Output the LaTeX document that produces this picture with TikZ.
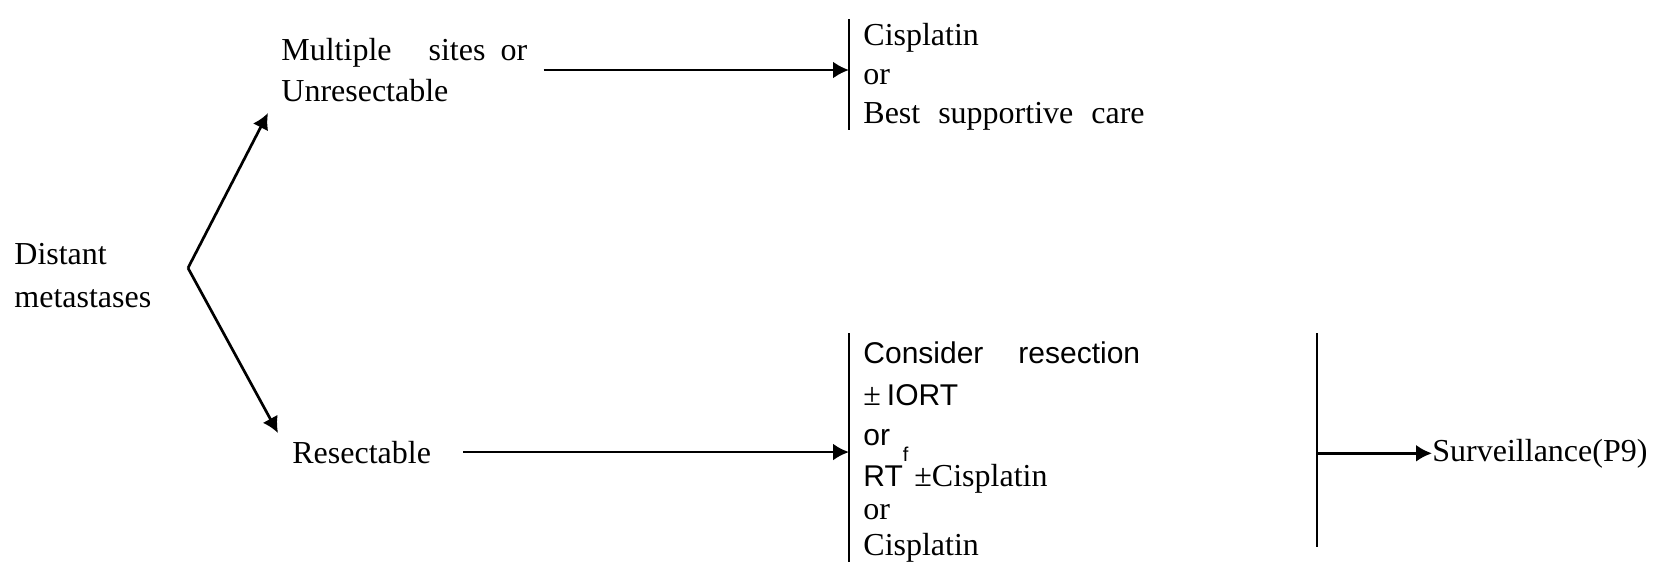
\documentclass[tikz,border=0pt]{standalone}
\usepackage{fontspec}
\setmainfont{Liberation Serif}
\setsansfont{Liberation Sans}
\usetikzlibrary{arrows.meta}
\tikzset{
    every node/.style={align=left,inner sep=0pt,},
    stage/.style={font=\fontsize{16}{20}\selectfont,},
    flow/.style={line width=1.35pt,-{Latex[length=8pt,width=8.5pt]},},
    bar/.style={line width=1.15pt,},
}
\newcommand{\sfword}[1]{{\sffamily\fontsize{15}{20}\selectfont #1}}

\begin{document}
\begin{tikzpicture}[x=0.5pt,y=-0.5pt]
                \useasboundingbox (0,0) rectangle (1660,562);

                \node[stage,anchor=west] (distant) at (14,276) {Distant\\[1.5pt]metastases};
                \node[stage,anchor=west] (multi) at (281,70) {Multiple\hspace{18.5pt}sites\hspace{7.5pt}or\\[0.5pt]Unresectable};
                \node[stage,anchor=base west] (resect) at (292,463) {Resectable};
                \node[stage,anchor=north west] (palliative) at (863,23) {Cisplatin\\[-0.5pt]or\\[-0.5pt]Best\hspace{9pt}supportive\hspace{9pt}care};
                \node[stage,anchor=north west] (options) at (863,341.5) {\sfword{Consider\hspace{17.5pt}resection}\\[1pt]
                    ±\hspace{3pt}\sfword{IORT}\\
                    \sfword{or}\\[0.5pt]
                    \sfword{RT}\raisebox{12.5pt}{\sffamily\fontsize{10}{10}\selectfont f}\hspace{3pt}±Cisplatin\\[-3.5pt]
                    or\\[-2pt]
                    Cisplatin};
                \node[stage,anchor=base west] (surv) at (1432,461) {Surveillance(P9)};

                \coordinate (fork) at (188,268);
                \coordinate (up) at (268,113);
                \coordinate (down) at (278,433);
                \coordinate (bar_top) at (849,19);
                \coordinate (bar_top_end) at (849,130);
                \coordinate (bar_low) at (849,333);
                \coordinate (bar_low_end) at (849,588);
                \coordinate (bar_right) at (1317,333);
                \coordinate (bar_right_end) at (1317,547);

                \draw[bar] (bar_top) -- (bar_top_end);
                \draw[bar] (bar_low) -- (bar_low_end);
                \draw[bar] (bar_right) -- (bar_right_end);

                \path (fork) edge[flow] (up);
                \path (fork) edge[flow] (down);
                \path (multi.east) edge[flow,shorten <=8pt] (multi.east -| bar_top);
                \path (resect.east) edge[flow,shorten <=16pt] (resect.east -| bar_low);
                \path (surv.west -| bar_right) edge[flow] (surv.west);
            \end{tikzpicture}
\end{document}
